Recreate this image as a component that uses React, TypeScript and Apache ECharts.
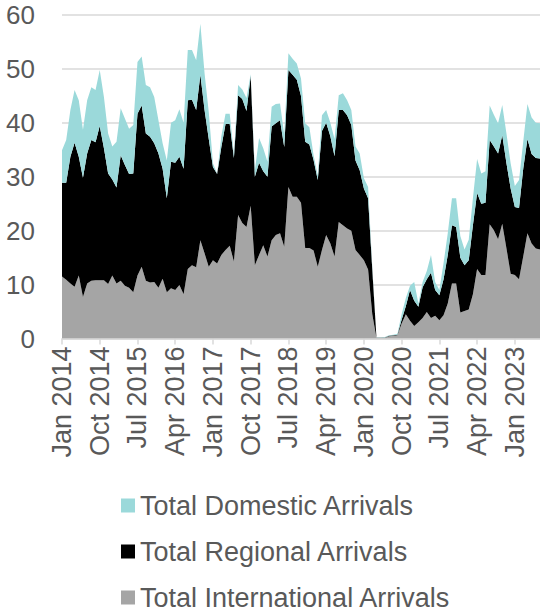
import React, { useEffect, useRef } from "react";
import * as echarts from "echarts";

// Monthly arrivals (in thousands), January 2014 to July 2023
const startYear = 2014;
const monthNames = ["Jan", "Feb", "Mar", "Apr", "May", "Jun", "Jul", "Aug", "Sep", "Oct", "Nov", "Dec"];
const monthCount = 115;
const months: string[] = [];
for (let k = 0; k < monthCount; k++) {
  months.push(`${monthNames[k % 12]} ${startYear + Math.floor(k / 12)}`);
}

const international = [
  11.5, 10.9, 10.2, 9.6, 11.7, 7.7, 10.2, 10.7, 10.8, 10.8, 10.8, 10.1,
  11.7, 10.2, 10.7, 9.8, 9.4, 8.6, 11.7, 13.3, 10.7, 10.4, 10.5, 9.4,
  11.1, 8.6, 9.3, 9.0, 9.9, 8.2, 12.9, 13.6, 13.2, 18.2, 15.8, 13.3,
  14.5, 13.9, 15.5, 16.4, 17.2, 14.3, 22.9, 21.4, 20.7, 24.6, 13.6, 15.5,
  17.3, 15.2, 18.2, 19.2, 19.5, 17.0, 28.1, 26.3, 26.3, 25.2, 16.8, 16.8,
  16.3, 13.3, 16.4, 19.2, 17.6, 15.2, 21.6, 21.0, 20.4, 20.0, 16.4, 15.5,
  14.5, 12.8, 4.5, 0.1, 0.1, 0.15, 0.4, 0.5, 0.6, 2.8, 4.5, 3.3,
  2.3, 3.0, 3.8, 4.9, 3.8, 4.2, 3.4, 4.3, 6.5, 10.2, 10.2, 4.8,
  5.1, 5.4, 8.2, 12.9, 11.8, 11.8, 21.2, 20.1, 18.4, 21.3, 16.7, 12.0,
  11.8, 11.0, 15.2, 19.5, 17.6, 16.7, 16.5,
];

const regional = [
  17.4, 18.0, 23.5, 26.7, 22.0, 22.1, 24.1, 26.1, 25.6, 28.6, 24.5, 20.5,
  17.8, 17.8, 23.3, 22.4, 21.1, 22.0, 30.0, 29.9, 27.3, 27.0, 25.7, 24.9,
  20.4, 17.4, 23.5, 23.6, 23.8, 23.3, 31.3, 30.7, 29.2, 30.7, 26.6, 23.7,
  17.3, 16.6, 20.0, 23.4, 22.6, 19.2, 22.2, 23.0, 21.5, 24.1, 16.4, 17.1,
  13.7, 14.8, 21.1, 20.7, 21.0, 18.5, 21.7, 22.6, 21.7, 19.8, 19.7, 19.2,
  16.8, 16.1, 22.1, 20.8, 19.9, 18.6, 20.8, 21.4, 21.0, 19.6, 16.6, 15.7,
  13.3, 13.2, 8.3, 0.05, 0.05, 0.05, 0.1, 0.1, 0.1, 0.7, 1.5, 5.7,
  4.7, 2.9, 5.7, 6.1, 8.4, 4.8, 4.6, 6.7, 9.0, 10.8, 10.5, 10.2,
  8.5, 9.1, 12.8, 14.1, 13.2, 13.4, 15.6, 15.5, 15.9, 16.4, 15.8, 15.8,
  12.6, 13.2, 16.3, 17.5, 16.6, 16.8, 16.9,
];

const domestic = [
  6.0, 7.9, 8.7, 9.8, 10.5, 8.9, 9.9, 9.8, 9.7, 10.4, 9.5, 7.4,
  6.1, 8.5, 8.7, 8.6, 8.4, 9.0, 9.6, 9.1, 9.0, 9.2, 8.6, 6.2,
  4.7, 7.0, 7.2, 7.9, 8.8, 8.5, 9.3, 9.2, 9.2, 9.5, 6.8, 5.0,
  0.7, 0.1, 2.0, 1.9, 1.9, 0.7, 1.9, 1.8, 2.4, 0.3, 1.2, 4.6,
  4.3, 2.8, 3.7, 3.6, 3.1, 2.3, 3.1, 3.0, 3.0, 3.2, 3.4, 3.2,
  0.9, 0.9, 2.9, 2.4, 2.5, 3.2, 2.7, 3.1, 2.8, 2.8, 2.6, 3.1,
  1.9, 2.1, 0.5, 0.05, 0.05, 0.1, 0.1, 0.1, 0.2, 1.0, 1.5, 0.8,
  3.5, 0.6, 1.0, 1.5, 3.3, 1.5, 1.0, 3.0, 4.0, 5.0, 5.3, 4.0,
  2.9, 3.8, 5.0, 6.3, 5.6, 5.8, 6.4, 5.9, 5.6, 5.6, 5.5, 4.7,
  3.9, 5.2, 5.0, 6.5, 6.8, 6.5, 6.5,
];

const yTicks = { min: 0, max: 60, interval: 10 };

const COLORS = {
  domestic: "#9BD9DA",
  regional: "#000000",
  international: "#A5A5A5",
  text: "#595959",
  grid: "#D9D9D9",
};

const FONT = "'Liberation Sans', Arial, sans-serif";

function areaSeries(name: string, data: number[], color: string) {
  return {
    name,
    type: "line",
    stack: "arrivals",
    data,
    symbol: "none",
    showSymbol: false,
    lineStyle: { width: 0, color },
    itemStyle: { color },
    areaStyle: { color, opacity: 1 },
    emphasis: { disabled: true },
  };
}

export default function App() {
  const ref = useRef<HTMLDivElement>(null);

  useEffect(() => {
    if (!ref.current) return;
    const chart = echarts.init(ref.current, null, { renderer: "svg" });
    chart.setOption({
      animation: false,
      textStyle: { fontFamily: FONT },
      grid: { left: 62, right: 0, top: 15, bottom: 273.5, containLabel: false },
      legend: {
        orient: "vertical",
        left: 121,
        top: 492,
        height: 120,
        padding: 0,
        itemWidth: 14,
        itemHeight: 14,
        itemGap: 19,
        icon: "rect",
        data: ["Total Domestic Arrivals", "Total Regional Arrivals", "Total International Arrivals"],
        textStyle: { fontSize: 27, color: COLORS.text, fontFamily: FONT, lineHeight: 27 },
      },
      xAxis: {
        type: "category",
        data: months,
        boundaryGap: false,
        axisLine: { show: true, lineStyle: { color: COLORS.grid, width: 1.5 } },
        axisTick: { show: true, interval: 8, length: 6, lineStyle: { color: COLORS.grid, width: 1.5 } },
        axisLabel: {
          interval: 8,
          rotate: 90,
          fontSize: 27,
          color: COLORS.text,
          fontFamily: FONT,
          margin: 8,
        },
        splitLine: { show: false },
      },
      yAxis: {
        type: "value",
        min: yTicks.min,
        max: yTicks.max,
        interval: yTicks.interval,
        axisLine: { show: false },
        axisTick: { show: false },
        axisLabel: { fontSize: 26, color: COLORS.text, fontFamily: FONT, margin: 27 },
        splitLine: { lineStyle: { color: COLORS.grid, width: 1.5 } },
      },
      series: [
        areaSeries("Total International Arrivals", international, COLORS.international),
        areaSeries("Total Regional Arrivals", regional, COLORS.regional),
        areaSeries("Total Domestic Arrivals", domestic, COLORS.domestic),
      ],
    });
    return () => chart.dispose();
  }, []);

  return (
    <div
      ref={ref}
      style={{ position: "fixed", left: 0, top: 0, width: 540, height: 612, background: "#ffffff" }}
    />
  );
}
